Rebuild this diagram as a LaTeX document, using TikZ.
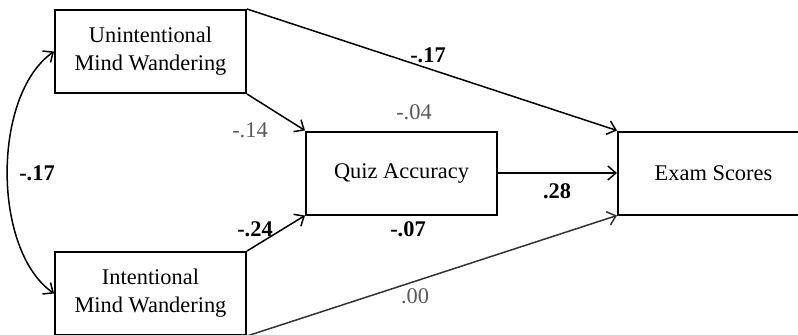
\documentclass[tikz,border=0pt]{standalone}
\usepackage{fontspec}
\setmainfont{Liberation Serif}
\usepackage{xcolor}
\usetikzlibrary{arrows.meta,calc,positioning}
\definecolor{pathgray}{HTML}{595959}

\begin{document}
\begin{tikzpicture}[x=0.5pt,y=-0.5pt,
 every node/.style={font=\fontsize{11.2}{14}\selectfont,align=center},
 box/.style={draw=black,line width=1pt,minimum height=41.5pt,minimum width=95.5pt,inner sep=2pt},
 coef/.style={font=\fontsize{11.2}{14}\selectfont\bfseries},
 weak/.style={text=pathgray},
 arrow/.style={-{Straight Barb[length=4pt,width=7pt]},line width=0.75pt}]
\useasboundingbox (0,0) rectangle (798,334);
\node[box] (unint) at (150.5,51.5) {Unintentional\\Mind Wandering};
\node[box] (int) at (150.5,293.5) {Intentional\\Mind Wandering};
\node[box] (quiz) at (401.5,173) {Quiz Accuracy};
\node[box] (exam) at (713.5,173) {Exam Scores};
\draw[arrow] (unint.north east) -- (exam.north west);
\draw[arrow] (unint.south east) -- (quiz.north west);
\draw[arrow] (int.north east) -- (quiz.south west);
\draw[arrow,draw=black!80] (int.south east) -- (exam.south west);
\draw[arrow] (quiz.east) -- (exam.west);
\draw[arrow,{Straight Barb[length=4pt,width=7pt]}-{Straight Barb[length=4pt,width=7pt]}]
  (unint.west) .. controls (-8,95) and (-8,250) .. (int.west);
% path coefficients
\node[coef] (c1) at (428,55) {-.17};
\node[weak] (c2) at (250,130) {-.14};
\node[weak] (c3) at (414,112) {-.04};
\node[coef] (c4) at (557,191) {.28};
\node[coef] (c5) at (255,229) {-.24};
\node[coef] (c6) at (408,229) {-.07};
\node[weak] (c7) at (415,296) {.00};
\node[coef] (c8) at (37,173) {-.17};
\end{tikzpicture}
\end{document}
